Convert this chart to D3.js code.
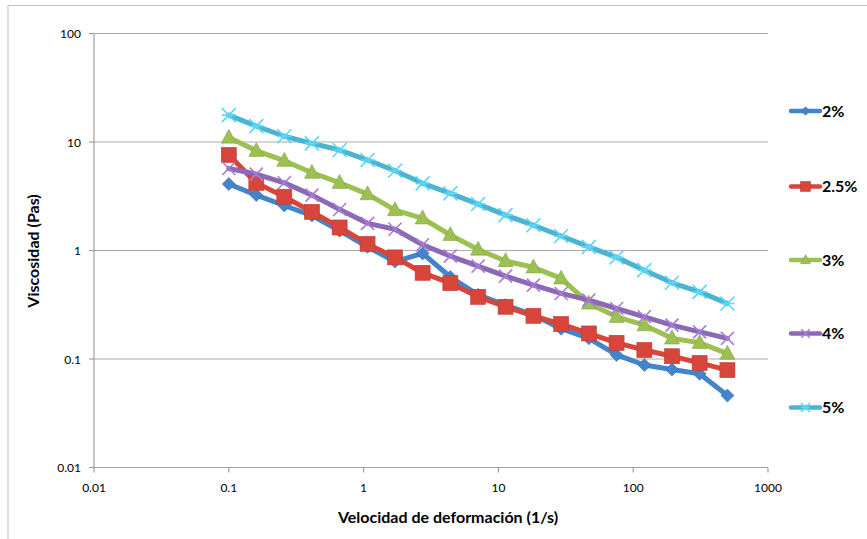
<html>
<script src="https://d3js.org/d3.v7.min.js"></script>
<body style="margin:0;background:#fff;">
<style>
    text { font-family: Lato, "Open Sans", sans-serif; fill: #000; }
    .tick-label { font-size: 12px; }
    .title { font-size: 16px; font-weight: 700; }
    .legend-label { font-size: 16px; font-weight: 700; }
</style>
<svg id="chart" width="867" height="539"></svg>
<script>
    // shear rates (1/s)
    let rates = [0.1, 0.16, 0.258, 0.414, 0.664, 1.07, 1.71, 2.74, 4.4, 7.07,
                 11.3, 18.2, 29.2, 46.9, 75.3, 121, 194, 311, 500];

    let visc2 = [4.1, 3.24, 2.6, 2.1, 1.52, 1.08, 0.79, 0.94, 0.57, 0.39,
                 0.314, 0.254, 0.19, 0.155, 0.109, 0.088, 0.08, 0.073, 0.046];
    let visc25 = [7.6, 4.2, 3.13, 2.27, 1.63, 1.15, 0.864, 0.623, 0.5, 0.374,
                  0.303, 0.25, 0.21, 0.172, 0.141, 0.121, 0.106, 0.092, 0.079];
    let visc3 = [11.0, 8.3, 6.72, 5.21, 4.21, 3.31, 2.36, 1.98, 1.39, 1.02,
                 0.8, 0.7, 0.553, 0.325, 0.245, 0.205, 0.155, 0.141, 0.112];
    let visc4 = [5.7, 5.06, 4.21, 3.24, 2.39, 1.78, 1.57, 1.13, 0.888, 0.718,
                 0.581, 0.48, 0.402, 0.349, 0.292, 0.245, 0.205, 0.178, 0.155];
    let visc5 = [17.7, 14.0, 11.3, 9.72, 8.43, 6.82, 5.43, 4.16, 3.36, 2.68,
                 2.12, 1.71, 1.36, 1.08, 0.864, 0.659, 0.504, 0.416, 0.325];

    let names = ["2%", "2.5%", "3%", "4%", "5%"];
    let xTicks = [0.01, 0.1, 1, 10, 100, 1000];
    let yTicks = [0.01, 0.1, 1, 10, 100];

    let series = [
        {name: names[0], values: visc2, color: "#4384cb", marker: "diamond"},
        {name: names[1], values: visc25, color: "#d8453b", marker: "square"},
        {name: names[2], values: visc3, color: "#9cc051", marker: "triangle"},
        {name: names[3], values: visc4, color: "#8c69b5", marker: "x"},
        {name: names[4], values: visc5, color: "#4bb4d0", marker: "star"}
    ];

    let svg = d3.select("#chart");

    // outer chart frame
    svg.append("rect")
        .attr("x", 8).attr("y", 5.5)
        .attr("width", 880).attr("height", 560)
        .attr("fill", "none")
        .attr("stroke", "#bdbdbd")
        .attr("stroke-width", 1);

    let x = d3.scaleLog().domain([0.01, 1000]).range([94, 768]);
    let y = d3.scaleLog().domain([0.01, 100]).range([467.5, 33.5]);

    // gridlines
    svg.selectAll(".grid")
        .data(yTicks.slice(1))
        .join("line")
        .attr("x1", x(0.01)).attr("x2", x(1000))
        .attr("y1", d => y(d)).attr("y2", d => y(d))
        .attr("stroke", "#ababab").attr("stroke-width", 1.2);

    // axes
    let g = svg.append("g");
    g.append("line")
        .attr("x1", x(0.01)).attr("x2", x(1000))
        .attr("y1", y(0.01)).attr("y2", y(0.01))
        .attr("stroke", "#a0a0a0").attr("stroke-width", 1.2);
    g.append("line")
        .attr("x1", x(0.01)).attr("x2", x(0.01))
        .attr("y1", y(0.01)).attr("y2", y(100))
        .attr("stroke", "#a0a0a0").attr("stroke-width", 1.2);

    g.selectAll(".xtick")
        .data(xTicks)
        .join("line")
        .attr("x1", d => x(d)).attr("x2", d => x(d))
        .attr("y1", y(0.01)).attr("y2", y(0.01) + 5)
        .attr("stroke", "#a0a0a0").attr("stroke-width", 1.2);
    g.selectAll(".ytick")
        .data(yTicks)
        .join("line")
        .attr("x1", x(0.01) - 5).attr("x2", x(0.01))
        .attr("y1", d => y(d)).attr("y2", d => y(d))
        .attr("stroke", "#a0a0a0").attr("stroke-width", 1.2);

    g.selectAll(".xlabel")
        .data(xTicks)
        .join("text")
        .attr("class", "tick-label")
        .attr("x", d => x(d))
        .attr("y", 492)
        .attr("text-anchor", "middle")
        .text(d => d);
    g.selectAll(".ylabel")
        .data(yTicks)
        .join("text")
        .attr("class", "tick-label")
        .attr("x", 81)
        .attr("y", d => y(d) + 4.5)
        .attr("text-anchor", "end")
        .text(d => d);

    svg.append("text")
        .attr("class", "title")
        .attr("x", 448).attr("y", 523)
        .attr("text-anchor", "middle")
        .text("Velocidad de deformación (1/s)");
    svg.append("text")
        .attr("class", "title")
        .attr("transform", "translate(39,251) rotate(-90)")
        .attr("text-anchor", "middle")
        .text("Viscosidad (Pas)");

    function drawMarker(sel, type, color, s) {
        if (type === "diamond") {
            sel.append("path")
                .attr("d", `M0,${-s}L${s},0L0,${s}L${-s},0Z`)
                .attr("fill", color).attr("stroke", d3.color(color).darker(0.4)).attr("stroke-width", 0.6);
        } else if (type === "square") {
            sel.append("rect")
                .attr("x", -s).attr("y", -s).attr("width", 2 * s).attr("height", 2 * s)
                .attr("fill", color).attr("stroke", d3.color(color).darker(0.4)).attr("stroke-width", 0.6);
        } else if (type === "triangle") {
            sel.append("path")
                .attr("d", `M0,${-s * 1.1}L${s},${s * 0.75}L${-s},${s * 0.75}Z`)
                .attr("fill", color).attr("stroke", d3.color(color).darker(0.4)).attr("stroke-width", 0.6);
        } else if (type === "x") {
            sel.append("path")
                .attr("d", `M${-s},${-s}L${s},${s}M${-s},${s}L${s},${-s}`)
                .attr("stroke", d3.color(color).brighter(0.5)).attr("stroke-width", 1.6);
        } else {
            sel.append("path")
                .attr("d", `M${-s},${-s}L${s},${s}M${-s},${s}L${s},${-s}M${-s},0L${s},0`)
                .attr("stroke", d3.color(color).brighter(0.5)).attr("stroke-width", 1.6);
        }
    }

    let markerSize = {diamond: 6.5, square: 7.5, triangle: 7.5, x: 6.5, star: 7};

    let line = d3.line()
        .x((d, i) => x(rates[i]))
        .y(d => y(d));

    series.forEach(s => {
        let sg = svg.append("g");
        sg.append("path")
            .attr("d", line(s.values))
            .attr("fill", "none")
            .attr("stroke", s.color)
            .attr("stroke-width", 5)
            .attr("stroke-linejoin", "round")
            .attr("stroke-linecap", "round");
        s.values.forEach((v, i) => {
            let m = sg.append("g").attr("transform", `translate(${x(rates[i])},${y(v)})`);
            drawMarker(m, s.marker, s.color, markerSize[s.marker]);
        });
    });

    // legend
    let legendY = [111, 186.5, 260, 333.5, 407.5];
    series.forEach((s, i) => {
        let lg = svg.append("g").attr("transform", `translate(0,${legendY[i]})`);
        lg.append("line")
            .attr("x1", 791).attr("x2", 820)
            .attr("y1", 0).attr("y2", 0)
            .attr("stroke", s.color).attr("stroke-width", 4.5)
            .attr("stroke-linecap", "round");
        let m = lg.append("g").attr("transform", "translate(805.5,0)");
        drawMarker(m, s.marker, s.color, markerSize[s.marker] * 0.65);
        lg.append("text")
            .attr("class", "legend-label")
            .attr("x", 822).attr("y", 5.5)
            .text(s.name);
    });
</script>
</body>
</html>
